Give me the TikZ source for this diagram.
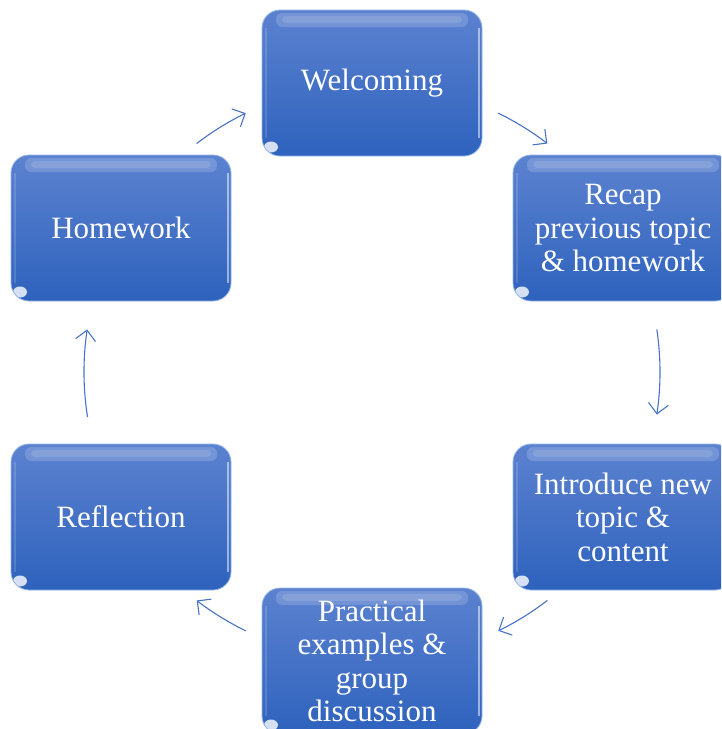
\documentclass[tikz,border=0pt]{standalone}
\usepackage{fontspec}
\setmainfont{Liberation Serif}
\usetikzlibrary{arrows.meta}

\definecolor{boxtop}{RGB}{92,130,208}
\definecolor{boxbot}{RGB}{46,98,189}
\definecolor{boxedge}{RGB}{150,182,232}
\definecolor{flowc}{RGB}{72,114,198}

\tikzset{
  stage/.style={rounded corners=18pt, minimum width=220pt, minimum height=146pt,
    top color=boxtop, bottom color=boxbot, draw=boxedge, line width=0.8pt,
    text=white, align=center, font=\fontsize{31}{33.5}\selectfont,
    path picture={
      \fill[white,opacity=0.16,rounded corners=6pt]
        ([xshift=14pt,yshift=-3pt]path picture bounding box.north west) rectangle
        ([xshift=-14pt,yshift=-17pt]path picture bounding box.north east);
      \fill[white,opacity=0.12,rounded corners=4pt]
        ([xshift=20pt,yshift=-6pt]path picture bounding box.north west) rectangle
        ([xshift=-20pt,yshift=-13pt]path picture bounding box.north east);
      \draw[white,opacity=0.5,line width=1.6pt]
        ([xshift=-3pt,yshift=-18pt]path picture bounding box.north east) --
        ([xshift=-3pt,yshift=18pt]path picture bounding box.south east);
      \draw[white,opacity=0.15,line width=1.6pt]
        ([xshift=4pt,yshift=-18pt]path picture bounding box.north west) --
        ([xshift=4pt,yshift=18pt]path picture bounding box.south west);
      \fill[white,opacity=0.8]
        ([xshift=9pt,yshift=9pt]path picture bounding box.south west) ellipse (7pt and 5.5pt);
    }},
  flow/.style={draw=flowc, line width=1.1pt, -{Straight Barb[length=10pt,width=20pt]}}
}

\begin{document}
\begin{tikzpicture}[x=1pt,y=1pt]
  \useasboundingbox (0,0) rectangle (721,-729);
  \clip (0,0) rectangle (721,-729);

  \node[stage] (welc)  at (372,-83)  {Welcoming};
  \node[stage] (recap) at (623,-228) {Recap\\previous topic\\\& homework};
  \node[stage] (intro) at (623,-517) {Introduce new\\topic \&\\content};
  \node[stage] (prac)  at (372,-661) {Practical\\examples \&\\group\\discussion};
  \node[stage] (refl)  at (121,-517) {Reflection};
  \node[stage] (home)  at (121,-228) {Homework};

  % arrows run round the middle of the cycle
  \coordinate (hub) at (372,-372);
  \draw[flow] (hub) ++(127.5:288) arc[start angle=127.5, end angle=116, radius=288];
  \draw[flow] (hub) ++(64:288) arc[start angle=64, end angle=52.5, radius=288];
  \draw[flow] (hub) ++(8.5:288) arc[start angle=8.5, end angle=-8.5, radius=288];
  \draw[flow] (hub) ++(-52.5:288) arc[start angle=-52.5, end angle=-64, radius=288];
  \draw[flow] (hub) ++(-116:288) arc[start angle=-116, end angle=-127.5, radius=288];
  \draw[flow] (hub) ++(189:288) arc[start angle=189, end angle=171.5, radius=288];
\end{tikzpicture}
\end{document}
